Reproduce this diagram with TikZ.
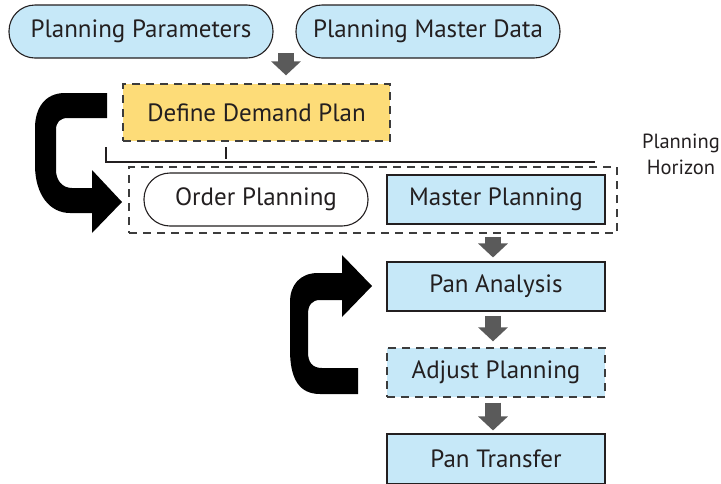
\documentclass[tikz,border=0pt]{standalone}
\usepackage{fontspec}
\setmainfont{PT Sans}
\usetikzlibrary{arrows.meta,calc}

\definecolor{ink}{HTML}{231F20}
\definecolor{skyfill}{HTML}{C6E8F8}
\definecolor{sunfill}{HTML}{FDDC78}
\definecolor{flowgray}{HTML}{5A5A5A}
\definecolor{dashgray}{HTML}{3C3C3C}

\tikzset{
  base/.style={inner sep=0pt, text=ink, font=\fontsize{25}{30}\selectfont},
  pill/.style={base, draw=ink, line width=1.1pt, rounded corners=26pt,
               minimum height=53pt},
  bluebox/.style={base, draw=ink, line width=1.1pt, fill=skyfill,
               minimum width=218pt, minimum height=49pt},
  dashbox/.style={dash pattern=on 8pt off 6pt, draw=dashgray, line width=1.3pt},
  flow/.style={draw=flowgray, line width=16pt,
               -{Triangle[width=29pt,length=14pt]}, color=flowgray},
  bracket/.style={draw=ink, line width=1.2pt},
  curl/.style={fill=black},
}

\begin{document}
\begin{tikzpicture}[x=1pt,y=-1pt]
\useasboundingbox (0,0) rectangle (721,483);

% inputs
\node[pill, fill=skyfill, minimum width=264pt] (pp)  at (141,31.5) {Planning Parameters};
\node[pill, fill=skyfill, minimum width=264pt] (pmd) at (428,31.5) {Planning Master Data};

% demand plan
\node[base, dashbox, fill=sunfill, minimum width=267pt, minimum height=57pt]
  (ddp) at (256.5,112.5) {Define Demand Plan};

% planning horizon group
\node[dashbox, inner sep=0pt, minimum width=488pt, minimum height=66pt] (hz) at (373,200) {};
\node[pill, fill=white, minimum width=224pt] (op) at (256,199.5) {Order Planning};
\node[bluebox] (mp) at (496,199.5) {Master Planning};
\node[base, align=center, font=\fontsize{20.5}{26}\selectfont] (hl) at (681,154)
  {Planning\\Horizon};

% bracket spanning the horizon
\coordinate (bl) at (106,147);
\coordinate (br) at (595,162);
\coordinate (tk) at (226,147);
\draw[bracket] (bl) |- (br);
\draw[bracket] (tk) -- ++(0,12);

% analysis chain
\node[bluebox] (pa) at (496,286.5) {Pan Analysis};
\node[bluebox, dashbox] (ap) at (496,372.5) {Adjust Planning};
\node[bluebox, minimum height=50pt] (pt) at (496,459) {Pan Transfer};

% flow arrows
\coordinate (src) at (286,53);
\draw[flow, shorten >=8pt] (src) -- (src |- ddp.north);
\draw[flow, shorten <=3pt, shorten >=4pt] ([xshift=-3pt]hz.south -| mp.south) -- ([xshift=-3pt]pa.north);
\draw[flow, shorten <=4pt, shorten >=6pt] ([xshift=-3pt]pa.south) -- ([xshift=-3pt]ap.north);
\draw[flow, shorten <=5pt, shorten >=3pt] ([xshift=-3pt]ap.south) -- ([xshift=-3pt]pt.north);

% loop back into the horizon group
\coordinate (tipA) at (122,202);
\fill[curl] (107,93) -- (65,93) .. controls (45,93) and (35,108) .. (35,128)
  -- (35,165) .. controls (35,195) and (50,213) .. (70,213)
  -- (92,213) -- (92,233) -- (tipA) -- (92,170) -- (92,188)
  -- (72,188) .. controls (62,188) and (56,180) .. (56,170)
  -- (56,130) .. controls (56,122) and (60,118) .. (68,118)
  -- (107,118) -- cycle;

% loop from adjustment back to analysis
\coordinate (tipB) at (372,286);
\fill[curl] (358,368) -- (322,368) .. controls (312,368) and (308,362) .. (308,352)
  -- (308,314) .. controls (308,305) and (312,300) .. (320,300)
  -- (342,300) -- (342,317) -- (tipB) -- (342,255) -- (342,273)
  -- (318,273) .. controls (300,273) and (290,285) .. (290,302)
  -- (290,350) .. controls (290,380) and (300,394) .. (320,394)
  -- (358,394) -- cycle;
\end{tikzpicture}
\end{document}
